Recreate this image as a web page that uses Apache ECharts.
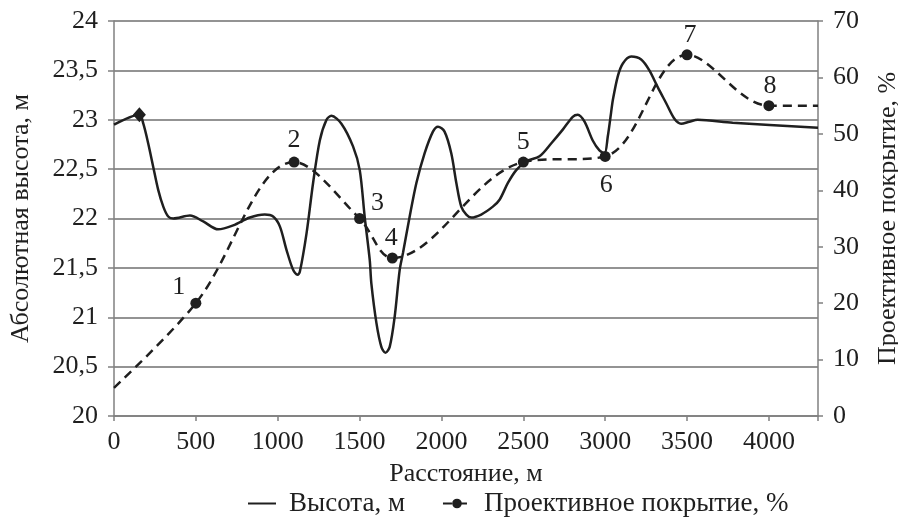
<!DOCTYPE html>
<html><head><meta charset="utf-8">
<script src="https://cdn.jsdelivr.net/npm/echarts@6/dist/echarts.min.js"></script>
<style>html,body{margin:0;padding:0;background:#fff}#c{width:898px;height:517px}</style>
</head><body><div id="c"></div>
<script>
// Height profile (distance m, altitude m)
const heightX = [0,155,179,209,240,270,301,331,362,464,545,636,728,830,921,972,1013,1054,1094,1121,1135,1176,1216,1257,1298,1328,1389,1460,1501,1531,1562,1572,1603,1633,1658,1684,1714,1745,1765,1806,1847,1897,1948,1979,2019,2060,2091,2121,2152,2182,2243,2314,2355,2406,2457,2518,2599,2670,2741,2802,2833,2874,2924,2965,2996,3016,3036,3047,3077,3108,3159,3220,3270,3321,3372,3423,3464,3514,3565,3779,4300];
const heightY = [22.95,23.05,22.96,22.76,22.52,22.29,22.12,22.02,22.0,22.03,21.97,21.89,21.93,22.01,22.04,22.02,21.92,21.68,21.48,21.43,21.46,21.85,22.36,22.79,23.0,23.04,22.96,22.73,22.49,22.02,21.58,21.34,20.94,20.70,20.64,20.70,21.0,21.48,21.65,22.02,22.36,22.66,22.88,22.93,22.88,22.66,22.36,22.12,22.04,22.01,22.04,22.12,22.19,22.36,22.49,22.58,22.63,22.76,22.90,23.03,23.05,22.98,22.79,22.69,22.66,22.83,23.07,23.2,23.44,23.57,23.64,23.61,23.50,23.33,23.17,23.01,22.96,22.98,23.0,22.97,22.92];
// Projective cover (distance m, %)
const coverX = [0,500,1100,1500,1700,2500,3000,3500,4000,4300];
const coverY = [5,20,45,35,28,45,46,64,55,55];
const coverLabels = ['', '1','2','3','4','5','6','7','8',''];
// Diamond marker on the height profile
const diamondPoint = [155, 23.05];
const xTicks = [0,500,1000,1500,2000,2500,3000,3500,4000];

const FONT = 'Liberation Serif';
const FS = 26;
const GRAY = '#808080';
const INK = '#1f1f1f';

// label placement (offset from marker centre)
const labelOffset = {
  '1':[-17,-16], '2':[0,-22], '3':[18,-15], '4':[-1,-20],
  '5':[0,-20], '6':[1,29], '7':[3,-20], '8':[1,-19]
};

const coverData = coverX.map((x,i)=>{
  const lab = coverLabels[i];
  const d = {value:[x, coverY[i]]};
  if (!lab) { d.symbol = 'none'; d.label = {show:false}; }
  else d.label = {show:true, formatter: lab, position:'inside', offset: labelOffset[lab]};
  return d;
});

const chart = echarts.init(document.getElementById('c'), null, {renderer:'canvas'});
chart.setOption({
  animation:false,
  textStyle:{fontFamily:FONT},
  grid:{left:114, right:80, top:21, bottom:101, containLabel:false, outerBoundsMode:'none'},
  legend:{
    top:490, left:247, padding:0,
    itemWidth:28, itemHeight:12, itemGap:37,
    data:[{name:'Высота, м', itemStyle:{opacity:0}},{name:'Проективное покрытие, %'}],
    textStyle:{fontFamily:FONT, fontSize:27, color:INK, padding:[0,0,0,8]}
  },
  xAxis:{
    type:'value', min:0, max:4300, interval:500,
    name:'Расстояние, м', nameLocation:'middle', nameGap:45,
    nameTextStyle:{fontFamily:FONT, fontSize:FS, color:INK},
    axisLine:{show:true, lineStyle:{color:GRAY, width:1.5}},
    axisTick:{show:true, length:5, inside:false, lineStyle:{color:GRAY, width:1.5}},
    axisLabel:{fontFamily:FONT, fontSize:FS, color:INK, margin:13,
      formatter:v=> xTicks.indexOf(v)>=0 ? String(v) : ''},
    splitLine:{show:false}
  },
  yAxis:[{
    type:'value', min:20, max:24, interval:0.5, position:'left',
    name:'Абсолютная высота, м', nameLocation:'middle', nameGap:80, nameRotate:90,
    nameTextStyle:{fontFamily:FONT, fontSize:FS, color:INK},
    axisLine:{show:true, lineStyle:{color:GRAY, width:1.5}},
    axisTick:{show:true, length:6, lineStyle:{color:GRAY, width:1.5}},
    axisLabel:{fontFamily:FONT, fontSize:FS, color:INK, margin:16,
      formatter:v=>String(v).replace('.',',')},
    splitLine:{show:true, lineStyle:{color:'#6f6f6f', width:1.5}}
  },{
    type:'value', min:0, max:70, interval:10, position:'right',
    name:'Проективное покрытие, %', nameLocation:'middle', nameGap:57, nameRotate:90,
    nameTextStyle:{fontFamily:FONT, fontSize:FS, color:INK},
    axisLine:{show:true, lineStyle:{color:GRAY, width:1.5}},
    axisTick:{show:true, length:5, lineStyle:{color:GRAY, width:1.5}},
    axisLabel:{fontFamily:FONT, fontSize:FS, color:INK, margin:15},
    splitLine:{show:false}
  }],
  series:[{
    name:'Высота, м', type:'line', yAxisIndex:0,
    data: heightX.map((x,i)=>[x, heightY[i]]),
    smooth:0.3, symbol:'none',
    lineStyle:{color:INK, width:2.5}, itemStyle:{color:INK}, z:3
  },{
    name:'Проективное покрытие, %', type:'line', yAxisIndex:1,
    data: coverData, smooth:0.35,
    symbol:'circle', symbolSize:11,
    lineStyle:{color:INK, width:2.5, type:[9,6]},
    itemStyle:{color:INK},
    label:{fontFamily:FONT, fontSize:FS, color:INK},
    z:4
  },{
    name:'diamond', type:'scatter', yAxisIndex:0,
    data:[diamondPoint], symbol:'diamond', symbolSize:[13,15],
    itemStyle:{color:INK, opacity:1}, z:5
  }]
});
</script></body></html>
